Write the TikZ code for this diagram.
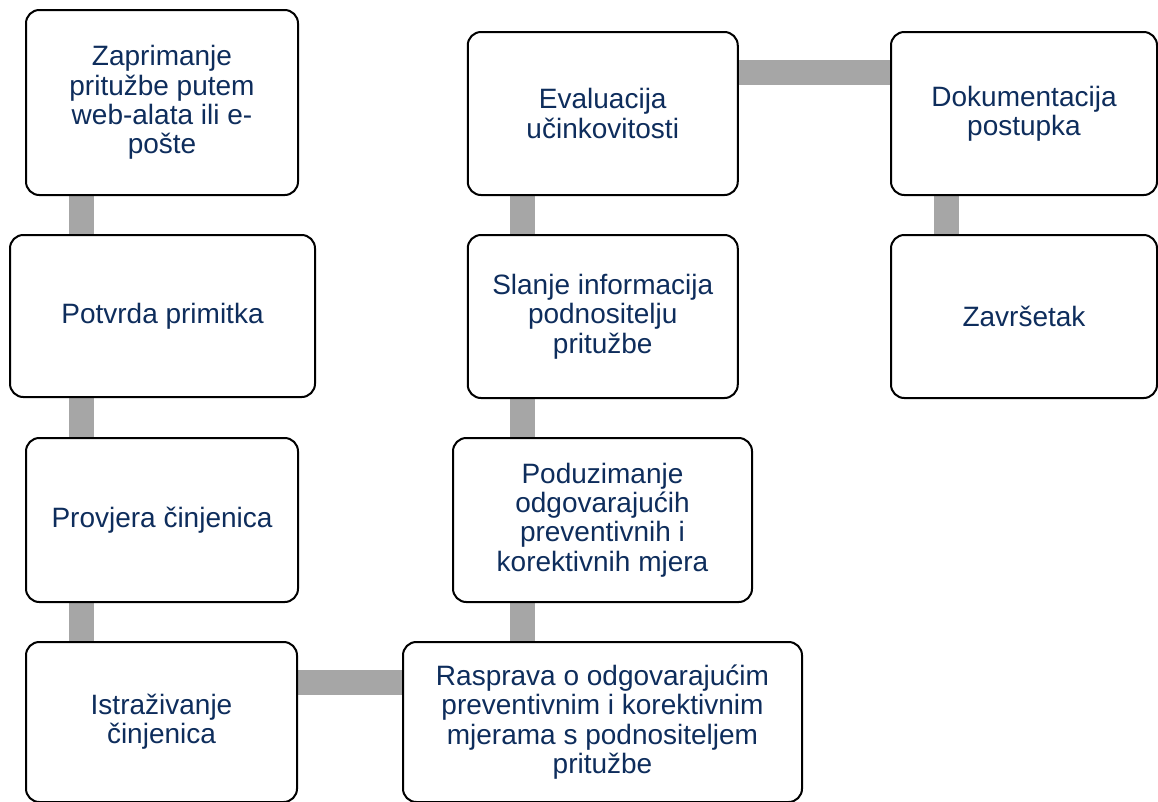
\documentclass[tikz,border=0pt]{standalone}
\usepackage{fontspec}
\setmainfont{Liberation Sans}
\usetikzlibrary{backgrounds}
\definecolor{stagetext}{RGB}{14,45,92}
\definecolor{linkgray}{RGB}{166,166,166}
\tikzset{
  stage/.style={draw=black,line width=1.5pt,rounded corners=10pt,fill=white,align=center,
    text=stagetext,font=\fontsize{21}{22}\selectfont,inner sep=2pt},
  link/.style={draw=linkgray,line width=18.75pt}
}

\begin{document}
\begin{tikzpicture}[x=0.75pt,y=-0.75pt]
\useasboundingbox (0,0) rectangle (1158,801);
\coordinate (colA) at (81.5,0);
\coordinate (colB) at (522.5,0);
\coordinate (colC) at (946.5,0);
\coordinate (rowA) at (0,72);
\coordinate (rowD) at (0,682.5);

\node[stage,minimum width=204pt,minimum height=138.75pt] (b1) at (162,102.5) {Zaprimanje\\pritužbe putem\\web-alata ili e-\\pošte};
\node[stage,minimum width=228.75pt,minimum height=121.5pt] (b2) at (162.5,316) {Potvrda primitka};
\node[stage,minimum width=204pt,minimum height=123pt] (b3) at (162,520) {Provjera činjenica};
\node[stage,minimum width=203.25pt,minimum height=120pt] (b4) at (161.5,722) {Istraživanje\\činjenica};
\node[stage,minimum width=299.25pt,minimum height=120pt] (b5) at (602.5,722) {Rasprava o odgovarajućim\\preventivnim i korektivnim\\mjerama s podnositeljem\\pritužbe};
\node[stage,minimum width=224.25pt,minimum height=123pt] (b6) at (602.5,520) {Poduzimanje\\odgovarajućih\\preventivnih i\\korektivnih mjera};
\node[stage,minimum width=202.5pt,minimum height=122.25pt] (b7) at (602.75,316.5) {Slanje informacija\\podnositelju\\pritužbe};
\node[stage,minimum width=202.5pt,minimum height=122.25pt] (b8) at (602.75,113.5) {Evaluacija\\učinkovitosti};
\node[stage,minimum width=199.5pt,minimum height=122.25pt] (b9) at (1024,113.5) {Dokumentacija\\postupka};
\node[stage,minimum width=199.5pt,minimum height=122.25pt] (b10) at (1024,316.5) {Završetak};

\begin{scope}[on background layer]
\draw[link] (b1.south -| colA) -- (b2.north -| colA);
\draw[link] (b2.south -| colA) -- (b3.north -| colA);
\draw[link] (b3.south -| colA) -- (b4.north -| colA);
\draw[link] (b4.east |- rowD) -- (b5.west |- rowD);
\draw[link] (b5.north -| colB) -- (b6.south -| colB);
\draw[link] (b6.north -| colB) -- (b7.south -| colB);
\draw[link] (b7.north -| colB) -- (b8.south -| colB);
\draw[link] (b8.east |- rowA) -- (b9.west |- rowA);
\draw[link] (b9.south -| colC) -- (b10.north -| colC);
\end{scope}

\end{tikzpicture}
\end{document}
